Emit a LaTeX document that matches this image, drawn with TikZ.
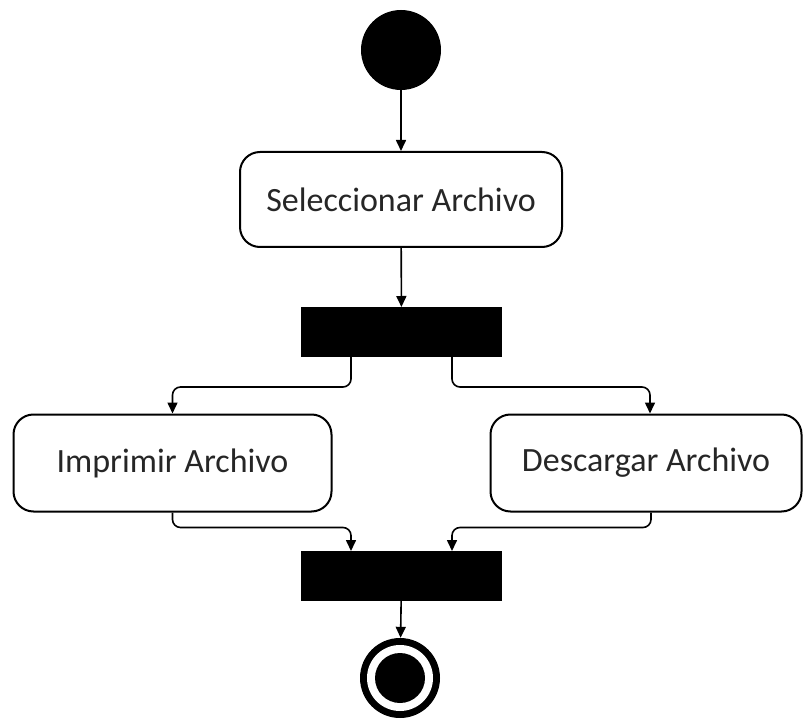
\documentclass[tikz,border=0pt]{standalone}
\usepackage{fontspec}
\setmainfont{Carlito}
\usetikzlibrary{arrows.meta}
\begin{document}
\begin{tikzpicture}[x=1pt,y=-1pt,
  activity/.style={draw,line width=2pt,rounded corners=20pt,inner sep=0pt,
    font=\fontsize{34}{40}\selectfont,text=black!85},
  syncbar/.style={fill=black,draw=black,line width=1pt,inner sep=0pt,
    minimum width=200pt,minimum height=49pt},
  flow/.style={line width=1.6pt,rounded corners=8pt,
    -{Triangle[width=10pt,length=11pt]}}]
  \useasboundingbox (0,0) rectangle (803,719);

  % initial node
  \node[circle,fill=black,inner sep=0pt,minimum size=80pt] (start) at (401,50) {};

  % actions
  \node[activity,minimum width=322pt,minimum height=95pt] (select) at (401,199.5) {Seleccionar Archivo};
  \node[activity,minimum width=318pt,minimum height=97pt] (print) at (172.5,463) {Imprimir Archivo};
  \node[activity,minimum width=311pt,minimum height=97pt] (download) at (646,463) {Descargar Archivo};

  % fork and join bars
  \node[syncbar] (fork) at (401.5,332) {};
  \node[syncbar] (join) at (401.5,576) {};

  % final node
  \node[circle,fill=black,inner sep=0pt,minimum size=80pt] (final) at (400,678) {};
  \fill[white] (final.center) circle (33pt);
  \fill[black] (final.center) circle (25pt);

  % control flow
  \draw[flow] (start) -- (select);
  \draw[flow] (select) -- (fork);
  \draw[flow] ([xshift=50pt]fork.south west) -- ++(0,30) -| (print.north);
  \draw[flow] ([xshift=-50pt]fork.south east) -- ++(0,30) -| ([xshift=4pt]download.north);
  \draw[flow] (print.south) -- ++(0,15) -| ([xshift=50pt]join.north west);
  \draw[flow] ([xshift=5pt]download.south) -- ++(0,15) -| ([xshift=-50pt]join.north east);
  \draw[flow] (join) -- (final);
\end{tikzpicture}
\end{document}
